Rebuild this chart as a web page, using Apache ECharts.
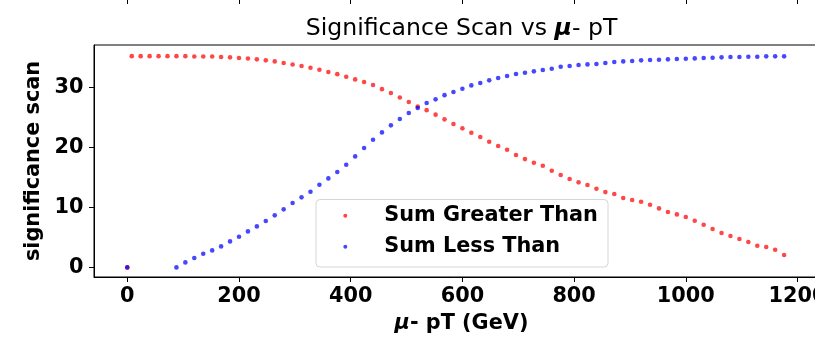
<!DOCTYPE html>
<html>
<head>
<meta charset="utf-8">
<script src="https://cdn.jsdelivr.net/npm/echarts@6/dist/echarts.min.js"></script>
<style>
  html, body { margin: 0; padding: 0; background: #fff; }
  #chart { width: 815px; height: 338px; }
</style>
</head>
<body>
<div id="chart"></div>
<script>
// x positions (GeV) and significance values
const greaterX = [0, 8, 24, 40, 56, 72, 88, 104, 120, 136, 152, 168, 184, 200, 216, 232, 248, 264, 280, 296, 312,
  328, 344, 360, 376, 392, 408, 424, 440, 456, 472, 488, 504, 520, 536, 552, 568, 584, 600, 616, 632,
  648, 664, 680, 696, 712, 728, 744, 760, 776, 792, 808, 824, 840, 856, 872, 888, 904, 920, 936, 952,
  968, 984, 1000, 1016, 1032, 1048, 1064, 1080, 1096, 1112, 1128, 1144, 1160, 1176];
const greaterY = [0, 35.2, 35.2, 35.2, 35.2, 35.2, 35.2, 35.2, 35.15, 35.15, 35.15, 35.05, 35.0, 34.9, 34.8, 34.67,
  34.5, 34.33, 34.05, 33.8, 33.55, 33.28, 32.94, 32.55, 32.2, 31.78, 31.33, 30.9, 30.4, 29.7, 29.05,
  28.3, 27.55, 26.8, 26.2, 25.45, 24.67, 23.9, 23.17, 22.45, 21.72, 20.95, 20.22, 19.6, 18.72, 18.05,
  17.45, 16.94, 16.1, 15.39, 14.72, 14.17, 13.72, 13.1, 12.55, 12.22, 11.56, 11.22, 10.94, 10.44, 9.83,
  9.22, 8.83, 8.39, 7.78, 7.11, 6.39, 5.72, 5.22, 4.72, 4.22, 3.61, 3.39, 2.94, 2.06];

const lessX = [0, 88, 104, 120, 136, 152, 168, 184, 200, 216, 232, 248, 264, 280, 296, 312, 328, 344, 360, 376, 392,
  408, 424, 440, 456, 472, 488, 504, 520, 536, 552, 568, 584, 600, 616, 632, 648, 664, 680, 696, 712,
  728, 744, 760, 776, 792, 808, 824, 840, 856, 872, 888, 904, 920, 936, 952, 968, 984, 1000, 1016, 1032,
  1048, 1064, 1080, 1096, 1112, 1128, 1144, 1160, 1176];
const lessY = [0, 0, 0.83, 1.56, 2.28, 2.83, 3.5, 4.33, 5.11, 6.0, 6.83, 7.72, 8.67, 9.67, 10.72, 11.67, 12.61,
  13.78, 14.83, 15.89, 17.11, 18.5, 19.89, 21.28, 22.5, 23.67, 24.72, 25.72, 26.56, 27.39, 28.0,
  28.7, 29.22, 29.78, 30.33, 30.72, 31.17, 31.56, 31.89, 32.22, 32.44, 32.67, 32.89, 33.11, 33.44,
  33.56, 33.72, 33.83, 33.89, 34.06, 34.22, 34.33, 34.39, 34.5, 34.56, 34.61, 34.67, 34.72, 34.78,
  34.83, 34.89, 34.94, 35.0, 35.05, 35.05, 35.11, 35.11, 35.17, 35.17, 35.17];

const xTicks = [0, 200, 400, 600, 800, 1000, 1200];
const yTicks = [0, 10, 20, 30];

const font = "DejaVu Sans";

function pairs(xs, ys) {
  return xs.map((x, i) => [x, ys[i]]);
}

const chart = echarts.init(document.getElementById("chart"), null, { renderer: "canvas" });

chart.setOption({
  animation: false,
  backgroundColor: "#fff",
  grid: [
    {
      left: 94, top: 45, width: 735, height: 232,
      outerBoundsMode: "none", containLabel: false,
      show: true, borderColor: "#000", borderWidth: 1, backgroundColor: "transparent",
    },
    // bottom edge of the panel above, only its ticks peek in
    { left: 94, top: -60, width: 735, height: 59, show: false, outerBoundsMode: "none", containLabel: false },
  ],
  xAxis: [
    {
      type: "value", gridIndex: 0, min: -59.6, max: 1256.4,
      name: "{m|μ}- pT (GeV)",
      nameLocation: "middle",
      nameGap: 36,
      nameTextStyle: {
        fontFamily: font, fontSize: 20.8, fontWeight: "bold", color: "#000",
        rich: { m: { fontFamily: font, fontSize: 20.8, fontWeight: "bold", fontStyle: "italic", color: "#000" } },
      },
      axisLine: { show: true, onZero: false, lineStyle: { color: "#000", width: 1 } },
      axisTick: { show: true, length: 5, customValues: xTicks, lineStyle: { color: "#000", width: 1 } },
      axisLabel: {
        customValues: xTicks, margin: 9,
        formatter: (v) => String(v),
        fontFamily: font, fontSize: 20.8, fontWeight: "bold", color: "#000",
      },
      splitLine: { show: false },
    },
    {
      type: "value", gridIndex: 1, min: -59.6, max: 1256.4,
      axisLine: { show: false },
      axisTick: { show: true, length: 5, customValues: xTicks, lineStyle: { color: "#000", width: 1 } },
      axisLabel: { show: false },
      splitLine: { show: false },
    },
  ],
  yAxis: [
    {
      type: "value", gridIndex: 0, min: -1.6, max: 37.06,
      name: "significance scan",
      nameLocation: "middle",
      nameGap: 40,
      nameTextStyle: { fontFamily: font, fontSize: 20.8, fontWeight: "bold", color: "#000" },
      axisLine: { show: true, onZero: false, lineStyle: { color: "#000", width: 1 } },
      axisTick: { show: true, length: 5, customValues: yTicks, lineStyle: { color: "#000", width: 1 } },
      axisLabel: {
        customValues: yTicks, margin: 10.5,
        formatter: (v) => String(v),
        fontFamily: font, fontSize: 20.8, fontWeight: "bold", color: "#000",
      },
      splitLine: { show: false },
    },
    { type: "value", gridIndex: 1, show: false },
  ],
  legend: {
    orient: "vertical",
    left: 343.3, top: 203.7,
    padding: 0, itemGap: 7,
    itemWidth: 4, itemHeight: 4,
    icon: "circle",
    textStyle: {
      fontFamily: font, fontSize: 20.8, fontWeight: "bold", color: "#000",
      lineHeight: 24, padding: [0, 0, 0, 32],
    },
    data: ["Sum Greater Than", "Sum Less Than"],
  },
  graphic: [
    {
      type: "text", x: 461.5, y: 29, z: 10,
      style: {
        text: "Significance Scan vs {m|μ}- pT",
        fontFamily: font, fontSize: 23.6, fill: "#000",
        align: "center", verticalAlign: "middle",
        rich: { m: { fontFamily: font, fontSize: 23.6, fontWeight: "bold", fontStyle: "italic", fill: "#000" } },
      },
    },
    {
      type: "rect", z: 3,
      shape: { x: 316, y: 199.5, width: 292, height: 67.5, r: 4 },
      style: { fill: "rgba(255,255,255,0.8)", stroke: "#d6d6d6", lineWidth: 1 },
    },
  ],
  series: [
    {
      name: "Sum Greater Than", type: "scatter", xAxisIndex: 0, yAxisIndex: 0,
      symbolSize: 4.6,
      itemStyle: { color: "rgba(255,0,0,0.9)" },
      data: pairs(greaterX, greaterY),
    },
    {
      name: "Sum Less Than", type: "scatter", xAxisIndex: 0, yAxisIndex: 0,
      symbolSize: 4.6,
      itemStyle: { color: "rgba(0,0,255,0.9)" },
      data: pairs(lessX, lessY),
    },
  ],
});
</script>
</body>
</html>
